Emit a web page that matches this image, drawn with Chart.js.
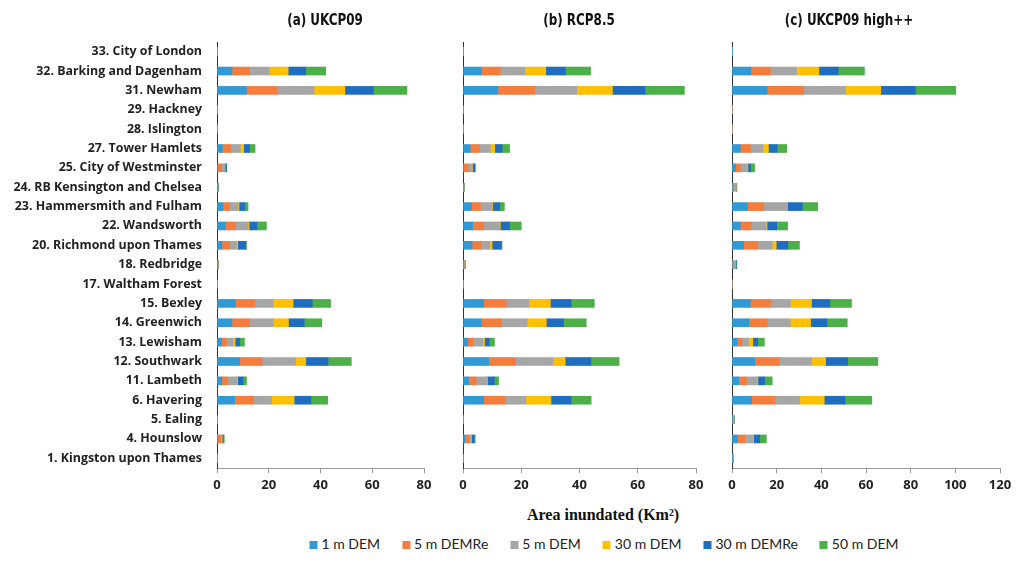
<!DOCTYPE html>
<html>
<head>
<meta charset="utf-8">
<script src="https://cdn.jsdelivr.net/npm/chart.js@4.4.0/dist/chart.umd.min.js"></script>
<style>
  body { margin: 0; background: #fff; width: 1024px; height: 563px; overflow: hidden; position: relative; font-family: "Open Sans", Lato, sans-serif; }
  canvas { position: absolute; top: 0; }
  .ttl { position: absolute; top: 10px; transform: translateX(-50%) scaleX(0.83); white-space: nowrap;
         font: bold 16px "DejaVu Sans Condensed", "Open Sans", sans-serif; color: #111; }
  #xtitle { position: absolute; top: 506px; left: 603px; transform: translateX(-50%); white-space: nowrap;
            font: bold 16px "Liberation Serif", serif; color: #111; }
  #legend { position: absolute; top: 535px; left: 604px; transform: translateX(-50%); display: flex; gap: 22px;
            white-space: nowrap; font: 14px Lato, sans-serif; color: #222; }
  #legend span.sw { display: inline-block; width: 8px; height: 8px; margin-right: 4px; }
</style>
</head>
<body>
<canvas id="chartA"></canvas>
<canvas id="chartB"></canvas>
<canvas id="chartC"></canvas>
<div class="ttl" style="left:325px">(a) UKCP09</div>
<div class="ttl" style="left:579px">(b) RCP8.5</div>
<div class="ttl" style="left:849px">(c) UKCP09 high++</div>
<div id="xtitle">Area inundated (Km²)</div>
<div id="legend"></div>
<script>
// boroughs, top to bottom
var boroughs = ["33. City of London", "32. Barking and Dagenham", "31. Newham", "29. Hackney", "28. Islington",
  "27. Tower Hamlets", "25. City of Westminster", "24. RB Kensington and Chelsea", "23. Hammersmith and Fulham",
  "22. Wandsworth", "20. Richmond upon Thames", "18. Redbridge", "17. Waltham Forest", "15. Bexley",
  "14. Greenwich", "13. Lewisham", "12. Southwark", "11. Lambeth", "6. Havering", "5. Ealing",
  "4. Hounslow", "1. Kingston upon Thames"];

var demNames = ["1 m DEM", "5 m DEMRe", "5 m DEM", "30 m DEM", "30 m DEMRe", "50 m DEM"];
var demColors = ["#2f9ad6", "#f47c3c", "#a6a6a6", "#ffc000", "#1f6dc0", "#4caf48"];

// (a) UKCP09
var ukcp_1m     = [0.1, 5.8, 11.4, 0, 0, 2.1, 0.3, 0.1, 2.3, 3.2, 1.9, 0.1, 0, 7.1, 5.8, 1.7, 8.8, 1.8, 6.8, 0, 0.2, 0];
var ukcp_5mRe   = [0.05, 6.6, 11.9, 0, 0, 3.2, 1.5, 0.1, 2.6, 3.9, 3.0, 0.1, 0, 7.5, 6.6, 1.9, 8.6, 2.3, 7.4, 0, 1.2, 0];
var ukcp_5m     = [0.05, 7.7, 14.2, 0, 0, 3.7, 1.2, 0.1, 3.2, 4.9, 2.6, 0.2, 0, 7.1, 9.3, 2.6, 12.9, 3.6, 6.8, 0, 0.5, 0];
var ukcp_30m    = [0, 7.4, 11.9, 0, 0, 1.3, 0.1, 0, 0.4, 0.4, 0.5, 0, 0, 7.7, 5.9, 0.8, 4.0, 0.3, 8.8, 0, 0.1, 0];
var ukcp_30mRe  = [0, 6.8, 11.1, 0, 0, 2.3, 0.5, 0.1, 2.2, 3.0, 3.1, 0.1, 0, 7.4, 6.1, 1.8, 8.6, 2.1, 6.5, 0, 0.4, 0];
var ukcp_50m    = [0, 7.7, 12.9, 0, 0, 2.1, 0.2, 0.2, 1.3, 3.7, 0.3, 0.1, 0, 7.1, 6.8, 1.8, 9.0, 1.3, 6.5, 0, 0.4, 0];

// (b) RCP8.5
var rcp_1m      = [0.05, 6.3, 12.0, 0, 0, 2.5, 0.2, 0.1, 2.9, 3.3, 3.1, 0.2, 0, 7.1, 6.3, 1.6, 8.8, 1.9, 7.1, 0, 0.6, 0];
var rcp_5mRe    = [0.05, 6.5, 12.6, 0, 0, 3.1, 1.5, 0.1, 3.1, 3.8, 3.1, 0.1, 0, 7.7, 6.9, 1.8, 9.2, 2.6, 7.4, 0, 1.4, 0];
var rcp_5m      = [0.1, 8.4, 14.5, 0, 0, 3.8, 1.5, 0.1, 4.0, 5.5, 3.0, 0.2, 0, 7.8, 8.8, 3.4, 12.9, 3.7, 7.1, 0, 0.8, 0];
var rcp_30m     = [0, 7.2, 12.2, 0, 0, 1.5, 0.1, 0, 0.2, 0.2, 0.8, 0, 0, 7.4, 6.6, 0.6, 4.2, 0.2, 8.6, 0, 0.1, 0];
var rcp_30mRe   = [0, 6.8, 11.2, 0, 0, 2.5, 0.8, 0.1, 2.4, 3.2, 3.1, 0.2, 0, 7.1, 5.9, 1.6, 8.8, 2.4, 6.9, 0, 0.9, 0];
var rcp_50m     = [0, 8.6, 13.5, 0, 0, 2.6, 0.1, 0.1, 1.6, 4.0, 0.3, 0.1, 0, 8.0, 7.8, 1.8, 9.7, 1.4, 6.9, 0, 0.4, 0];

// (c) UKCP09 high++
var high_1m     = [0.1, 8.4, 15.7, 0, 0, 3.7, 1.5, 0.2, 6.9, 3.7, 5.2, 0.2, 0, 8.2, 7.6, 2.2, 10.2, 3.0, 8.7, 0.1, 2.4, 0.1];
var high_5mRe   = [0.05, 8.8, 16.4, 0.3, 0.2, 4.6, 2.2, 0.6, 7.3, 4.9, 6.4, 0.4, 0.3, 9.0, 8.2, 2.2, 10.8, 3.4, 10.5, 0.2, 3.3, 0.1];
var high_5m     = [0.05, 11.7, 18.8, 0, 0, 5.5, 3.0, 1.0, 10.6, 6.7, 6.4, 1.0, 0, 9.0, 10.3, 3.0, 14.6, 4.9, 11.2, 0.6, 3.7, 0.2];
var high_30m    = [0, 10.0, 15.7, 0, 0, 2.5, 0.4, 0.1, 0.1, 0.4, 1.8, 0, 0, 9.4, 9.1, 1.9, 6.3, 0.3, 10.9, 0, 0.3, 0];
var high_30mRe  = [0.05, 8.7, 15.5, 0, 0, 3.9, 1.2, 0.2, 6.6, 4.3, 5.2, 0.3, 0, 8.2, 7.3, 2.2, 9.9, 3.0, 9.3, 0.1, 2.7, 0.1];
var high_50m    = [0.05, 11.7, 18.1, 0, 0, 4.3, 1.8, 0.1, 6.9, 4.9, 5.2, 0.3, 0, 9.7, 9.1, 3.0, 13.5, 3.4, 12.0, 0.2, 3.0, 0.1];

function makeDatasets(series){
  var sets = [];
  for (var i = 0; i < series.length; i++){
    sets.push({label: demNames[i], data: series[i], backgroundColor: demColors[i], borderWidth: 0, barThickness: 8});
  }
  return sets;
}

function createPanel(id, left, width, axisWidth, xmax, showLabels, series){
  var canvas = document.getElementById(id);
  canvas.style.left = left + "px";
  canvas.width = width;
  canvas.height = 500;
  canvas.style.width = width + "px";
  canvas.style.height = "500px";

  return new Chart(canvas.getContext('2d'), {
    type: 'bar',
    data: {labels: boroughs, datasets: makeDatasets(series)},
    options: {
      indexAxis: 'y',
      responsive: false,
      animation: false,
      devicePixelRatio: 1,
      layout: {padding: {top: 42, right: 16, left: 0, bottom: 0}},
      plugins: {legend: {display: false}, tooltip: {enabled: false}},
      scales: {
        x: {
          stacked: true, min: 0, max: xmax,
          ticks: {stepSize: 20, padding: 4, color: '#222', font: {family: 'Open Sans', weight: 'bold', size: 13}},
          grid: {drawOnChartArea: false, tickLength: 5, color: '#999'},
          border: {color: '#999'},
          afterFit: function(s){ s.height = 32; }
        },
        y: {
          stacked: true,
          ticks: {display: showLabels, padding: 7, color: '#222', font: {family: 'Open Sans', weight: 'bold', size: 12.4}},
          grid: {display: false},
          border: {display: true, color: '#333', width: 1},
          afterFit: function(s){ s.width = axisWidth; }
        }
      }
    }
  });
}

createPanel("chartA", 0, 440, 217, 80, true, [ukcp_1m, ukcp_5mRe, ukcp_5m, ukcp_30m, ukcp_30mRe, ukcp_50m]);
createPanel("chartB", 447, 265, 16, 80, false, [rcp_1m, rcp_5mRe, rcp_5m, rcp_30m, rcp_30mRe, rcp_50m]);
createPanel("chartC", 716, 300, 16, 120, false, [high_1m, high_5mRe, high_5m, high_30m, high_30mRe, high_50m]);

// legend row
var legend = document.getElementById("legend");
for (var i = 0; i < demNames.length; i++){
  var item = document.createElement("div");
  item.innerHTML = '<span class="sw" style="background:' + demColors[i] + '"></span>' + demNames[i];
  legend.appendChild(item);
}
</script>
</body>
</html>
